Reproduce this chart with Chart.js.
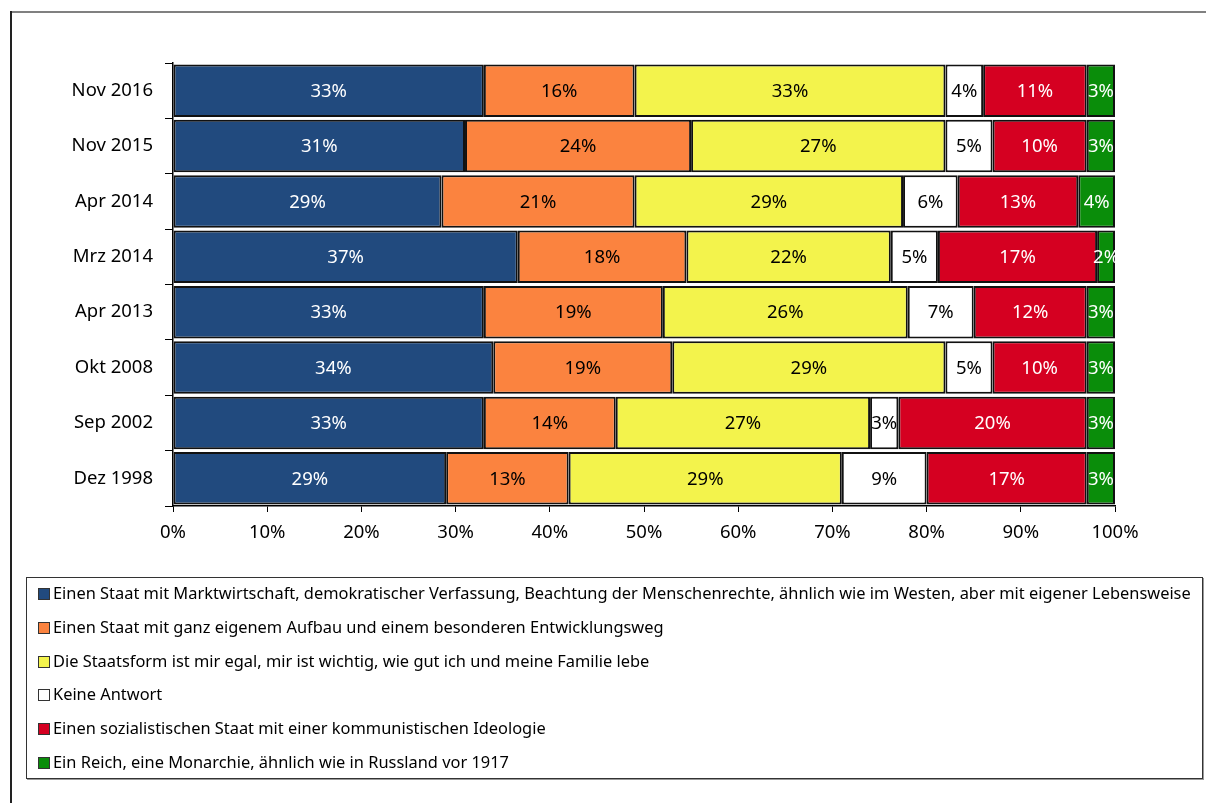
<!DOCTYPE html>
<html>
<head>
<meta charset="utf-8">
<script src="https://cdn.jsdelivr.net/npm/chart.js@4/dist/chart.umd.min.js"></script>
<style>
  html, body { margin: 0; padding: 0; background: #fff; }
  #wrap { position: relative; width: 1206px; height: 803px; overflow: hidden; }
  #frameTop { position: absolute; left: 10px; top: 11px; width: 1196px; height: 2px; background: #808080; }
  #frameLeft { position: absolute; left: 10px; top: 11px; width: 2px; height: 792px; background: #222; }
  canvas { position: absolute; left: 0; top: 0; }
  #legend { position: absolute; left: 26px; top: 577px; width: 1177px; height: 202px; border: 1px solid #333;
            box-shadow: 1px 1px 0 #999; box-sizing: border-box; font-family: "Noto Sans", sans-serif; font-size: 16.4px; color: #000; }
  .item { position: absolute; left: 11px; height: 20px; line-height: 20px; white-space: nowrap; }
  .sw { display: inline-block; width: 10px; height: 10px; border: 1px solid #333; vertical-align: middle; margin-right: 3px; position: relative; top: -1px; }
</style>
</head>
<body>
<div id="wrap">
  <canvas id="c" width="1206" height="803"></canvas>
  <div id="frameTop"></div>
  <div id="frameLeft"></div>
  <div id="legend"></div>
</div>
<script>
const categories = ["Nov 2016", "Nov 2015", "Apr 2014", "Mrz 2014", "Apr 2013", "Okt 2008", "Sep 2002", "Dez 1998"];
const seriesNames = [
  "Einen Staat mit Marktwirtschaft, demokratischer Verfassung, Beachtung der Menschenrechte, ähnlich wie im Westen, aber mit eigener Lebensweise",
  "Einen Staat mit ganz eigenem Aufbau und einem besonderen Entwicklungsweg",
  "Die Staatsform ist mir egal, mir ist wichtig, wie gut ich und meine Familie lebe",
  "Keine Antwort",
  "Einen sozialistischen Staat mit einer kommunistischen Ideologie",
  "Ein Reich, eine Monarchie, ähnlich wie in Russland vor 1917"
];
const marktwirtschaft = [33, 31, 28.5, 36.6, 33, 34, 33, 29];
const eigenerWeg      = [16, 24, 20.5, 17.9, 19, 19, 14, 13];
const egal            = [33, 27, 28.5, 21.7, 26, 29, 27, 29];
const keineAntwort    = [4, 5, 5.8, 5.0, 7, 5, 3, 9];
const sozialistisch   = [11, 10, 12.8, 16.9, 12, 10, 20, 17];
const monarchie       = [3, 3, 3.9, 1.9, 3, 3, 3, 3];
const xTicks = [0, 10, 20, 30, 40, 50, 60, 70, 80, 90, 100];

const fills = ["#214a7e", "#fb833f", "#f3f34c", "#ffffff", "#d50021", "#0a8d0a"];
const textColors = ["#fff", "#000", "#000", "#000", "#fff", "#fff"];
const values = [marktwirtschaft, eigenerWeg, egal, keineAntwort, sozialistisch, monarchie];

const FONT = '"Noto Sans", sans-serif';

const labelPlugin = {
  id: 'barLabels',
  afterDatasetsDraw(chart) {
    const ctx = chart.ctx;
    ctx.save();
    ctx.font = '18.5px ' + FONT;
    ctx.textAlign = 'center';
    ctx.textBaseline = 'middle';
    chart.data.datasets.forEach((ds, i) => {
      const meta = chart.getDatasetMeta(i);
      meta.data.forEach((el, j) => {
        const v = ds.data[j];
        ctx.fillStyle = textColors[i];
        ctx.fillText(Math.round(v) + '%', (el.x + el.base) / 2, el.y + 1);
      });
    });
    ctx.restore();
  }
};

new Chart(document.getElementById('c'), {
  type: 'bar',
  data: {
    labels: categories,
    datasets: seriesNames.map((n, i) => ({
      label: n,
      data: values[i],
      backgroundColor: fills[i],
      borderColor: '#111',
      borderWidth: 2,
      borderSkipped: false,
      barPercentage: 0.95,
      categoryPercentage: 1.0
    }))
  },
  options: {
    indexAxis: 'y',
    responsive: false,
    animation: false,
    layout: { padding: { left: 0, right: 91, top: 63, bottom: 257 } },
    plugins: { legend: { display: false }, title: { display: false }, tooltip: { enabled: false } },
    scales: {
      x: {
        stacked: true, min: 0, max: 100,
        afterBuildTicks(scale) { scale.ticks = xTicks.map(v => ({ value: v })); },
        afterFit(scale) { scale.height = 40; },
        grid: { drawOnChartArea: false, tickLength: 6, color: '#000', tickColor: '#000' },
        border: { color: '#000', width: 1.5 },
        ticks: { color: '#000', font: { family: FONT, size: 18.5 }, padding: 10, callback: v => v + '%' }
      },
      y: {
        stacked: true,
        afterFit(scale) { scale.width = 173; },
        grid: { drawOnChartArea: false, tickLength: 8, color: '#000', tickColor: '#000', offset: true },
        border: { color: '#000', width: 1.5 },
        ticks: { color: '#000', font: { family: FONT, size: 18.5 }, padding: 12 }
      }
    }
  },
  plugins: [labelPlugin]
});

const legend = document.getElementById('legend');
const rowCenters = [15, 49, 83, 116, 150, 184];
seriesNames.forEach((n, i) => {
  const d = document.createElement('div');
  d.className = 'item';
  d.style.top = (rowCenters[i] - 10) + 'px';
  const sw = document.createElement('span');
  sw.className = 'sw';
  sw.style.background = fills[i];
  d.appendChild(sw);
  d.appendChild(document.createTextNode(n));
  legend.appendChild(d);
});
</script>
</body>
</html>
